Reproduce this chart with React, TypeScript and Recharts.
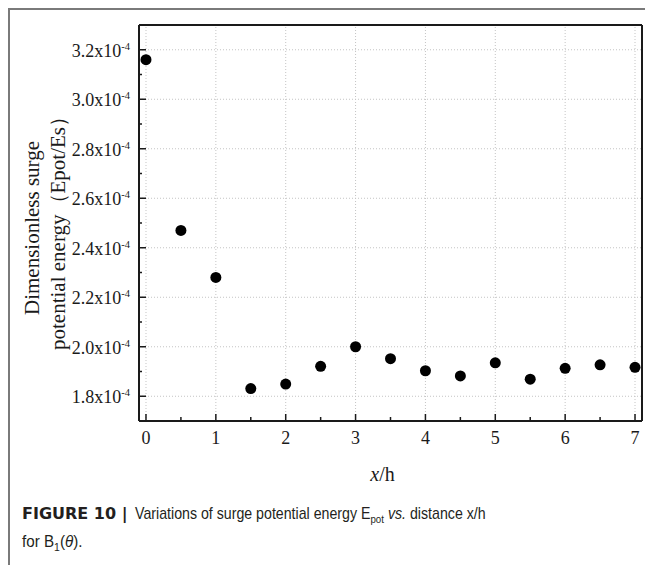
import {
  ScatterChart,
  Scatter,
  XAxis,
  YAxis,
  ReferenceLine,
} from "recharts";

// distance x/h
const distances = [0, 0.5, 1, 1.5, 2, 2.5, 3, 3.5, 4, 4.5, 5, 5.5, 6, 6.5, 7];
// dimensionless surge potential energy Epot/Es
const energies = [
  3.16e-4, 2.47e-4, 2.28e-4, 1.831e-4, 1.849e-4, 1.921e-4, 2.0e-4, 1.952e-4,
  1.903e-4, 1.882e-4, 1.935e-4, 1.869e-4, 1.913e-4, 1.927e-4, 1.917e-4,
];

const xMajorTicks = [0, 1, 2, 3, 4, 5, 6, 7];
const xMinorTicks = [0.5, 1.5, 2.5, 3.5, 4.5, 5.5, 6.5];
const yMajorTicks = [1.8e-4, 2.0e-4, 2.2e-4, 2.4e-4, 2.6e-4, 2.8e-4, 3.0e-4, 3.2e-4];
const yMinorTicks = [1.9e-4, 2.1e-4, 2.3e-4, 2.5e-4, 2.7e-4, 2.9e-4, 3.1e-4];

const xDomain = [-0.1, 7.1];
const yDomain = [1.7e-4, 3.3e-4];

const data = distances.map((x, i) => ({ x, y: energies[i] }));

const serif = "'Liberation Serif', 'Times New Roman', serif";
const sans = "'Liberation Sans', Arial, sans-serif";
const ink = "#1a1a1a";
const gridColor = "#c4c4c4";

const XTick = (props: any) => {
  const { x, y, payload } = props;
  const major = xMajorTicks.includes(payload.value);
  return (
    <g>
      <line x1={x} x2={x} y1={y} y2={y - (major ? 7 : 4)} stroke={ink} strokeWidth={1.5} />
      {major && (
        <text x={x} y={y + 23} textAnchor="middle" fontFamily={serif} fontSize={18} fill={ink}>
          {payload.value}
        </text>
      )}
    </g>
  );
};

const YTick = (props: any) => {
  const { x, y, payload } = props;
  const major = yMajorTicks.includes(payload.value);
  return (
    <g>
      <line x1={x} x2={x + (major ? 7 : 3)} y1={y} y2={y} stroke={ink} strokeWidth={1.5} />
      {major && (
        <text x={x - 9} y={y + 7} textAnchor="end" fontFamily={serif} fontSize={18} fill={ink}>
          <tspan>{(payload.value * 1e4).toFixed(1)}x10</tspan>
          <tspan dy={-7} fontSize={10.5}>-4</tspan>
        </text>
      )}
    </g>
  );
};

const YLabel = (props: any) => {
  const { viewBox } = props;
  const cy = viewBox.y + viewBox.height / 2 + 5;
  return (
    <g fontFamily={serif} fontSize={21} fill={ink}>
      <text x={31} y={cy} textAnchor="middle" transform={`rotate(-90, 31, ${cy})`}>
        Dimensionless surge
      </text>
      <text x={57} y={cy} textAnchor="middle" transform={`rotate(-90, 57, ${cy})`}>
        potential energy（Epot/Es）
      </text>
    </g>
  );
};

const XLabel = (props: any) => {
  const { viewBox } = props;
  const cx = viewBox.x + viewBox.width / 2 - 8;
  return (
    <text x={cx} y={viewBox.y + 60} textAnchor="middle" fontFamily={serif} fontSize={20} fill={ink}>
      <tspan fontStyle="italic">x</tspan>
      <tspan>/h</tspan>
    </text>
  );
};

const Dot = (props: any) => <circle cx={props.cx} cy={props.cy} r={5.5} fill="#000" />;

export default function App() {
  return (
    <div style={{ position: "relative", width: 645, height: 557 }}>
      <style>{`body{overflow:hidden}`}</style>
      <div style={{ position: "absolute", left: 0, top: 0, width: 645, height: 1.5, background: "#7a7a7a" }} />
      <div style={{ position: "absolute", left: 0, top: 0, width: 1.5, height: 557, background: "#7a7a7a" }} />
      <div style={{ position: "absolute", left: 0, top: 0 }}>
        <ScatterChart width={645} height={490} margin={{ top: 17, right: 11, left: 0, bottom: 7 }}>
          <XAxis
            type="number"
            dataKey="x"
            domain={xDomain}
            ticks={[...xMajorTicks, ...xMinorTicks].sort((a, b) => a - b)}
            interval={0}
            tickSize={0}
            tickMargin={0}
            tickLine={false}
            tick={<XTick />}
            axisLine={{ stroke: ink, strokeWidth: 2 }}
            height={70}
            allowDataOverflow
            label={<XLabel />}
          />
          <YAxis
            type="number"
            dataKey="y"
            domain={yDomain}
            ticks={[...yMajorTicks, ...yMinorTicks].sort((a, b) => a - b)}
            interval={0}
            tickSize={0}
            tickMargin={0}
            tickLine={false}
            tick={<YTick />}
            axisLine={{ stroke: ink, strokeWidth: 2 }}
            width={131}
            allowDataOverflow
            label={<YLabel />}
          />
          {xMajorTicks.map((v) => (
            <ReferenceLine key={`gx${v}`} x={v} stroke={gridColor} strokeDasharray="1 2" />
          ))}
          {yMajorTicks.map((v) => (
            <ReferenceLine key={`gy${v}`} y={v} stroke={gridColor} strokeDasharray="1 2" />
          ))}
          <ReferenceLine x={xDomain[1]} stroke={ink} strokeWidth={2} />
          <ReferenceLine y={yDomain[1]} stroke={ink} strokeWidth={2} />
          <Scatter data={data} shape={<Dot />} isAnimationActive={false} />
        </ScatterChart>
      </div>
      <svg width={645} height={77} style={{ position: "absolute", left: 0, top: 480 }}>
        <g fill="#231f20">
          <text x={14} y={31} fontFamily="'DejaVu Sans', sans-serif" fontWeight="bold" fontSize={16}>
            FIGURE 10 |
          </text>
          <text transform="translate(127, 31) scale(0.887, 1)" fontFamily={sans} fontSize={16}>
            <tspan>Variations of surge potential energy E</tspan>
            <tspan dy={3.5} fontSize={11}>pot</tspan>
            <tspan dy={-3.5} fontStyle="italic">{" vs."}</tspan>
            <tspan>{" distance x/h"}</tspan>
          </text>
          <text transform="translate(14, 59) scale(0.95, 1)" fontFamily={sans} fontSize={16}>
            <tspan>for B</tspan>
            <tspan dy={3.5} fontSize={11}>1</tspan>
            <tspan dy={-3.5}>(</tspan>
            <tspan fontStyle="italic">θ</tspan>
            <tspan>).</tspan>
          </text>
        </g>
      </svg>
    </div>
  );
}
